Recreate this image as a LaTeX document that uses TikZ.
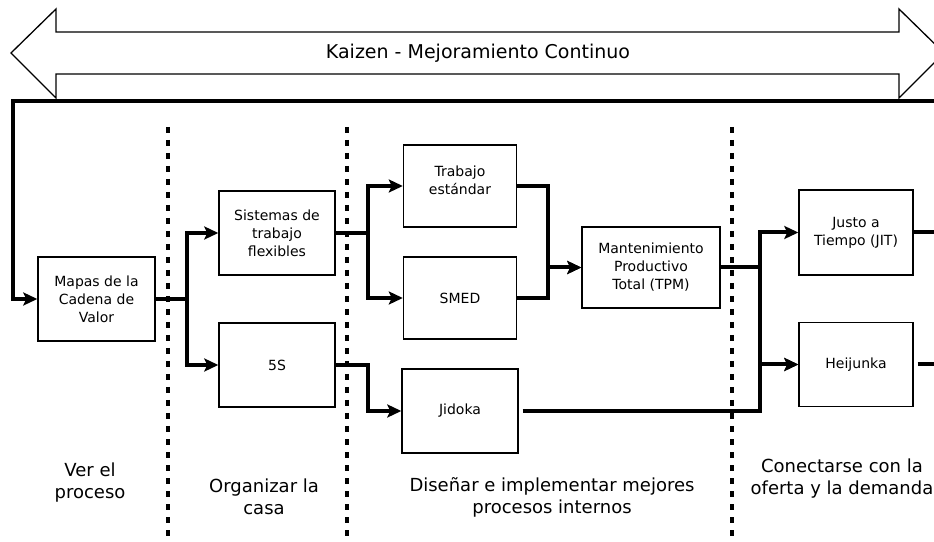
\documentclass[tikz,border=0pt]{standalone}
\usepackage{fontspec}
\setmainfont{DejaVu Sans}
\usetikzlibrary{arrows.meta, positioning}

\begin{document}
\begin{tikzpicture}[x=1pt,y=1pt,->,>={Stealth[length=14pt,width=13pt,inset=3pt]},line width=4pt,node distance=132pt,
  lean node/.style={draw,line width=1.4pt,minimum width=116pt,minimum height=84pt,align=center,font=\fontsize{14}{18}\selectfont},
  phase/.style={align=center,font=\fontsize{18}{22}\selectfont},
  divider/.style={-,line width=4.5pt,dash pattern=on 6pt off 7pt}]
  \clip (0,0) rectangle (934,541);
  % kaizen arrow
  \draw[-,line width=1.3pt] (11,488) -- (56,532) -- (56,509) -- (899,509) -- (899,532) -- (944,488)
    -- (899,443) -- (899,467) -- (56,467) -- (56,443) -- cycle;
  \node[phase,font=\fontsize{19}{22}\selectfont] (kaizen) at (478,488) {Kaizen - Mejoramiento Continuo};
  \foreach \x in {168,347,732} {\draw[divider] (\x,414) -- (\x,0);}
  \node[lean node,minimum width=117pt] (mapas) at (96.5,242) {Mapas de la\\Cadena de\\Valor};
  \node[lean node] (sist) at (277,308) {Sistemas de\\trabajo\\flexibles};
  \node[lean node] (fives) [below of=sist] {5S};
  \node[lean node,minimum width=113pt,minimum height=82pt] (trab) at (460,355) {Trabajo\\estándar\\[-6pt]};
  \node[lean node,minimum width=113pt,minimum height=82pt] (smed) [below of=trab,node distance=112pt] {SMED};
  \node[lean node,minimum width=116pt] (jidoka) [below of=smed,node distance=113pt] {Jidoka};
  \node[lean node,minimum width=138pt,minimum height=81pt] (tpm) at (651,273.5) {Mantenimiento\\Productivo\\Total (TPM)};
  \node[lean node,minimum width=114pt,minimum height=85pt] (jit) at (856,308.5) {Justo a\\Tiempo (JIT)};
  \node[lean node,minimum width=114pt] (heij) [below of=jit] {Heijunka};
  \coordinate (frame) at (934,440);
  \coordinate (outjit) at (934,308.5);
  \coordinate (outheij) at (934,176.5);
  \draw (frame) -- (13,440) |- (mapas.west);
  \foreach \t in {sist,fives} {\draw (mapas.east) -- ++(31,0) |- (\t.west);}
  \foreach \t in {trab,smed} {\draw (sist.east) -- ++(32,0) |- (\t.west);}
  \draw (fives.east) -- ++(32,0) |- (jidoka.west);
  \foreach \s in {trab,smed} {\draw (\s.east) -- ++(31,0) |- (tpm.west);}
  \foreach \t in {jit,heij} {\draw (tpm.east) -- ++(39,0) |- (\t.west);}
  \draw[shorten <=4pt] (jidoka.east) -- ++(241,0) |- (heij.west);
  \draw[-] (jit.east) -- (outjit);
  \draw[-,shorten <=4pt] (heij.east) -- (outheij);
  \node[phase] (ver) at (90,58) {Ver el\\proceso};
  \node[phase] (org) at (264,44) {Organizar la\\casa};
  \node[phase] (dis) at (552,44) {Diseñar e implementar mejores\\procesos internos};
  \node[phase] (con) at (842,62) {Conectarse con la\\oferta y la demanda};
\end{tikzpicture}
\end{document}
